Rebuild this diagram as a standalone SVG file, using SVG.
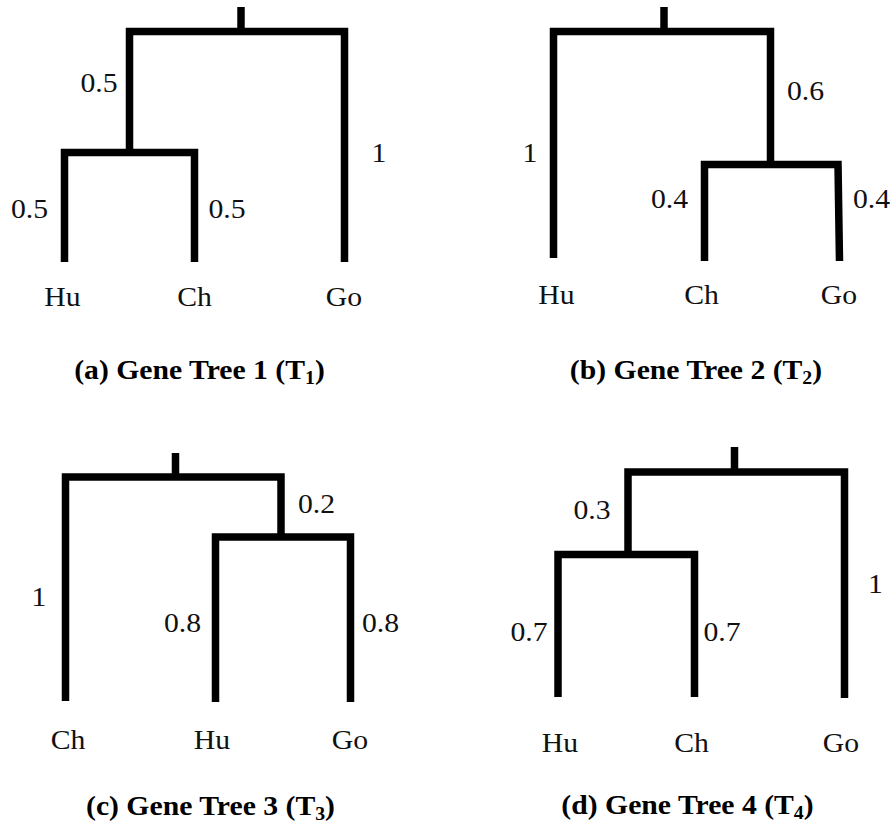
<svg xmlns="http://www.w3.org/2000/svg" width="894" height="825" viewBox="0 0 894 825">
<style>
.br{fill:none;stroke:#000;stroke-width:7.5;stroke-linejoin:miter;stroke-linecap:butt}
text{font-family:"Liberation Serif","Times New Roman",serif;font-size:27px;fill:#111;text-anchor:middle;transform-box:fill-box;transform-origin:center;transform:scaleX(1.1)}
.cap{font-weight:bold;fill:#000}
.sub{font-size:18px}
</style>
<rect width="894" height="825" fill="#fff"/>
<g id="connectors">
  <g id="tree-a-branches">
    <path class="br" d="M241 7 V31.5"/>
    <path class="br" d="M129.5 152.5 V31.5 H344.5 V262"/>
    <path class="br" d="M64.5 262 V152.5 H194.5 V262"/>
  </g>
  <g id="tree-b-branches">
    <path class="br" d="M664 7 V31.5"/>
    <path class="br" d="M553.5 258 V31.5 H770.5 V164.5"/>
    <path class="br" d="M704.5 261 V164.5 H838 L839.5 261"/>
  </g>
  <g id="tree-c-branches">
    <path class="br" d="M175.5 453 V477"/>
    <path class="br" d="M65.5 701 V477 H281 V537"/>
    <path class="br" d="M215.5 702 V537 H350.5 V702"/>
  </g>
  <g id="tree-d-branches">
    <path class="br" d="M734.5 447 V472"/>
    <path class="br" d="M628 554.5 V472 H844.5 V698"/>
    <path class="br" d="M558 697 V554.5 H694.5 V697"/>
  </g>
</g>
<g id="tree-a">
  <text x="99" y="92">0.5</text>
  <text x="379" y="162">1</text>
  <text x="29.5" y="218">0.5</text>
  <text x="227" y="218">0.5</text>
  <g id="a-hu"><text x="62.5" y="306">Hu</text></g>
  <g id="a-ch"><text x="194.5" y="306">Ch</text></g>
  <g id="a-go"><text x="344" y="306">Go</text></g>
  <text class="cap" x="199.5" y="379">(a) Gene Tree 1 (T<tspan class="sub" dy="5">1</tspan><tspan dy="-5">)</tspan></text>
</g>
<g id="tree-b">
  <text x="530" y="162">1</text>
  <text x="805.5" y="100">0.6</text>
  <text x="669.5" y="208">0.4</text>
  <text x="871.5" y="208">0.4</text>
  <g id="b-hu"><text x="556.5" y="304">Hu</text></g>
  <g id="b-ch"><text x="701.5" y="304">Ch</text></g>
  <g id="b-go"><text x="839" y="304">Go</text></g>
  <text class="cap" x="696" y="379">(b) Gene Tree 2 (T<tspan class="sub" dy="5">2</tspan><tspan dy="-5">)</tspan></text>
</g>
<g id="tree-c">
  <text x="39" y="606">1</text>
  <text x="316.5" y="513">0.2</text>
  <text x="182.5" y="632">0.8</text>
  <text x="380.5" y="632">0.8</text>
  <g id="c-ch"><text x="68" y="749">Ch</text></g>
  <g id="c-hu"><text x="212" y="749">Hu</text></g>
  <g id="c-go"><text x="350" y="749">Go</text></g>
  <text class="cap" x="210.5" y="815">(c) Gene Tree 3 (T<tspan class="sub" dy="5">3</tspan><tspan dy="-5">)</tspan></text>
</g>
<g id="tree-d">
  <text x="592" y="519">0.3</text>
  <text x="875.5" y="593">1</text>
  <text x="529" y="641">0.7</text>
  <text x="722" y="641">0.7</text>
  <g id="d-hu"><text x="560" y="752">Hu</text></g>
  <g id="d-ch"><text x="691.5" y="752">Ch</text></g>
  <g id="d-go"><text x="841" y="752">Go</text></g>
  <text class="cap" x="687.5" y="814">(d) Gene Tree 4 (T<tspan class="sub" dy="5">4</tspan><tspan dy="-5">)</tspan></text>
</g>
</svg>
